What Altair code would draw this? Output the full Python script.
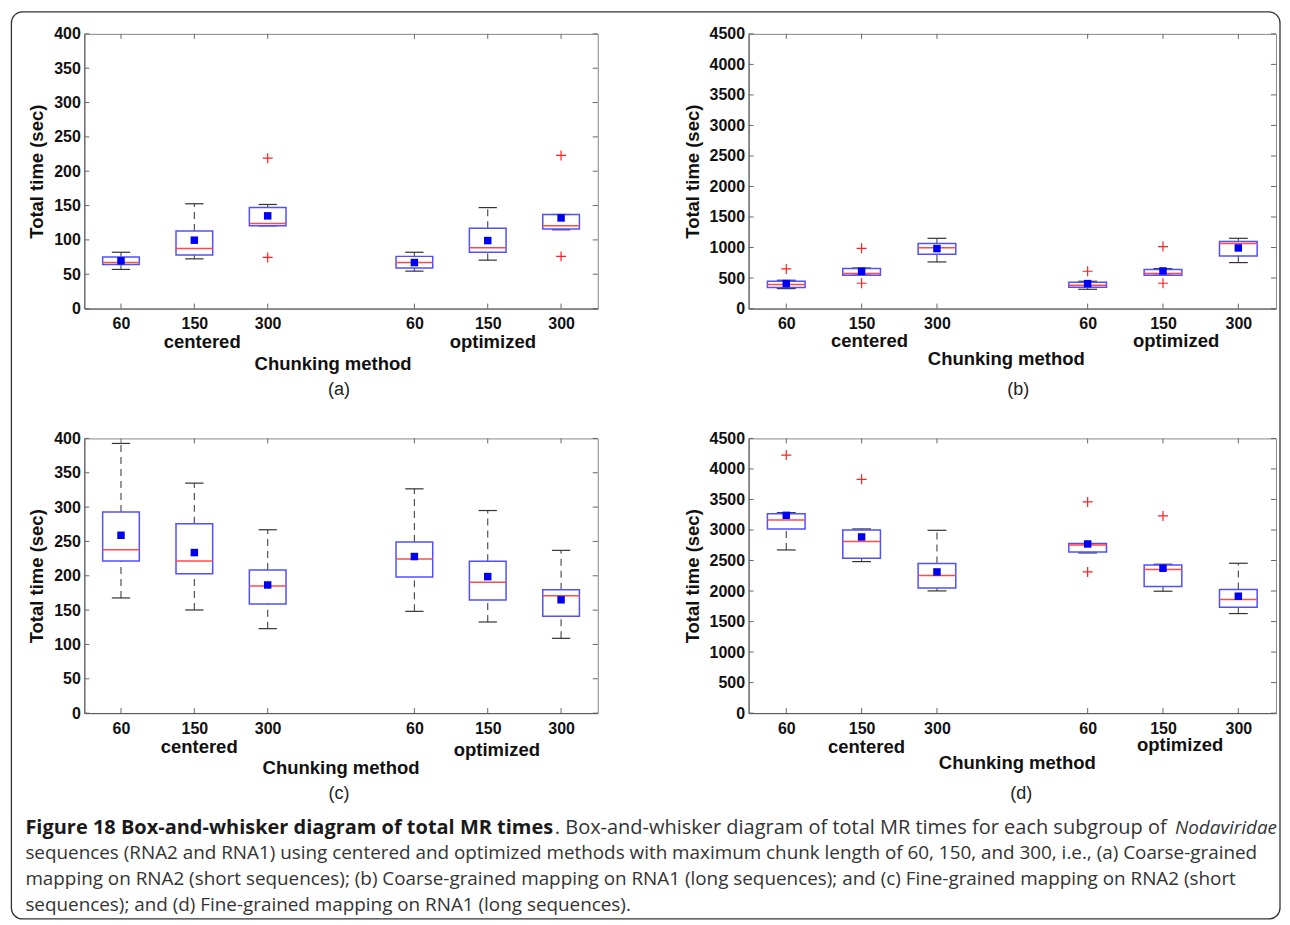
import altair as alt
import pandas as pd

# ---------------- data ----------------
chunk_labels = ["60", "150", "300"]
method_labels = ["centered", "optimized"]
positions = [1, 2, 3, 5, 6, 7]

# panel (a): coarse-grained, RNA2
a_q1 = [64, 78, 120.5, 59, 82, 116]
a_q3 = [75, 113, 147, 76, 117, 137]
a_med = [67, 87.5, 124, 67, 88.5, 120.5]
a_mean = [69.5, 99.6, 135, 67, 99, 132]
a_lo = [57, 72.4, 120.5, 54.5, 70.5, 114.7]
a_hi = [82, 152.6, 151.6, 82, 147, 137]
a_out_pos = [3, 3, 7, 7]
a_out_val = [219, 74.4, 223, 76]

# panel (b): coarse-grained, RNA1
b_q1 = [344, 546, 889, 349, 546, 862]
b_q3 = [447, 655, 1064, 431, 638, 1097]
b_med = [393, 573, 998, 382, 573, 1064]
b_mean = [409, 611, 982, 409, 616, 993]
b_lo = [327, 546, 764, 316, 546, 753]
b_hi = [464, 665, 1151, 447, 655, 1151]
b_out_pos = [1, 2, 2, 5, 6, 6]
b_out_val = [649, 987, 415, 611, 1015, 415]

# panel (c): fine-grained, RNA2
c_q1 = [221.6, 203, 159, 198.3, 164.8, 141]
c_q3 = [293, 275.6, 208.5, 249.3, 221, 179.8]
c_med = [238, 221.6, 185, 224.5, 190.5, 171]
c_mean = [259, 233.8, 186.6, 228, 198.8, 165]
c_lo = [167.7, 150.2, 123, 148.2, 132.7, 108.9]
c_hi = [392.7, 334.9, 267, 326.6, 295, 237]
c_out_pos = []
c_out_val = []

# panel (d): fine-grained, RNA1
d_q1 = [3017, 2537, 2051, 2640, 2073, 1735]
d_q3 = [3268, 3000, 2450, 2777, 2428, 2024]
d_med = [3164, 2810, 2253, 2755, 2351, 1860]
d_mean = [3240, 2886, 2313, 2771, 2373, 1915]
d_lo = [2673, 2482, 2002, 2624, 1997, 1631]
d_hi = [3284, 3017, 2995, 2777, 2439, 2455]
d_out_pos = [1, 2, 5, 5, 6]
d_out_val = [4228, 3830, 3459, 2313, 3230]

y_title = "Total time (sec)"
x_title = "Chunking method"

caption_bold = "Figure 18 Box-and-whisker diagram of total MR times"
caption_l1 = ". Box-and-whisker diagram of total MR times for each subgroup of "
caption_it = "Nodaviridae"
caption_lines = [
    "sequences (RNA2 and RNA1) using centered and optimized methods with maximum chunk length of 60, 150, and 300, i.e., (a) Coarse-grained",
    "mapping on RNA2 (short sequences); (b) Coarse-grained mapping on RNA1 (long sequences); and (c) Fine-grained mapping on RNA2 (short",
    "sequences); and (d) Fine-grained mapping on RNA1 (long sequences).",
]

# ---------------- styling ----------------
AX_FONT = "Liberation Sans"
CAP_FONT = "Open Sans"
BOX_BLUE = "#5050ff"
MED_RED = "#ff4a4a"
MEAN_BLUE = "#0000f0"
OUT_RED = "#ff2020"
WHISK = "#444444"
H = 275
CAP_SIZE = 18.9
CAP_BOLD_SIZE = 20

label_expr = "[{}][(datum.value - 1) % 4]".format(",".join("'%s'" % s for s in chunk_labels))


def txt(s, x, y, size=18.5, weight="bold", font=AX_FONT, align="center", style="normal", color="#111111"):
    return alt.Chart(pd.DataFrame({"t": [s]})).mark_text(
        text=s, font=font, fontSize=size, fontWeight=weight, fontStyle=style,
        align=align, baseline="middle", color=color
    ).encode(x=alt.value(x), y=alt.value(y))


def panel(q1, q3, med, mean, lo, hi, out_pos, out_val, ymax, ystep, W, labels, extra=None):
    df = pd.DataFrame({"pos": positions, "q1": q1, "q3": q3, "med": med,
                       "mean": mean, "lo": lo, "hi": hi})
    yvals = list(range(0, ymax + 1, ystep))
    xs = alt.Scale(domain=[0.5, 7.5], nice=False, zero=False)
    ys = alt.Scale(domain=[0, ymax], nice=False, zero=True)
    xax = alt.Axis(values=positions, labelExpr=label_expr, ticks=False, grid=False,
                   title=None, labelFont=AX_FONT, labelFontSize=16, labelFontWeight="bold",
                   labelColor="#111111", labelPadding=7, labelAngle=0,
                   domainColor="#555555", labelFlush=False)
    yax = alt.Axis(values=yvals, ticks=False, grid=False, title=y_title, format="d",
                   labelFont=AX_FONT, labelFontSize=16, labelFontWeight="bold",
                   labelColor="#111111", labelPadding=4, domainColor="#555555",
                   titleFont=AX_FONT, titleFontSize=18.5, titleFontWeight="bold",
                   titleColor="#111111", titlePadding=7, labelFlush=False)

    def X(f):
        return alt.X(f"{f}:Q", scale=xs, axis=xax)

    def Y(f):
        return alt.Y(f"{f}:Q", scale=ys, axis=yax)

    base = alt.Chart(df).transform_calculate(
        bl="datum.pos - 0.25", br="datum.pos + 0.25",
        cl="datum.pos - 0.125", cr="datum.pos + 0.125")

    w_up = base.mark_rule(strokeDash=[7, 5], color=WHISK, strokeWidth=1.1).encode(
        x=X("pos"), y=Y("q3"), y2="hi")
    w_dn = base.mark_rule(strokeDash=[7, 5], color=WHISK, strokeWidth=1.1).encode(
        x=X("pos"), y=Y("lo"), y2="q1")
    cap_up = base.mark_rule(color="#333333", strokeWidth=1.2).encode(
        x=X("cl"), x2="cr", y=Y("hi"))
    cap_dn = base.mark_rule(color="#333333", strokeWidth=1.2).encode(
        x=X("cl"), x2="cr", y=Y("lo"))
    box = base.mark_rect(fill="white", fillOpacity=0, stroke=BOX_BLUE, strokeWidth=1.5).encode(
        x=X("bl"), x2="br", y=Y("q1"), y2="q3")
    median = base.mark_rule(color=MED_RED, strokeWidth=1.5).encode(
        x=X("bl"), x2="br", y=Y("med"))
    meanm = base.mark_square(size=56, color=MEAN_BLUE, opacity=1, filled=True).encode(
        x=X("pos"), y=Y("mean"))

    layers = [w_up, w_dn, cap_up, cap_dn, box, median, meanm]

    if out_pos:
        odf = pd.DataFrame({"pos": out_pos, "val": out_val})
        outs = alt.Chart(odf).mark_point(
            shape="M-1,0L1,0M0,-1L0,1", size=100, filled=False,
            color=OUT_RED, strokeWidth=1.2, opacity=1).encode(x=X("pos"), y=Y("val"))
        layers.append(outs)

    # inward ticks on all four sides (MATLAB style box)
    yt = pd.DataFrame({"v": yvals})
    xt = pd.DataFrame({"p": positions})
    tcol = "#666666"
    layers.append(alt.Chart(yt).mark_rule(color=tcol).encode(
        y=Y("v"), x=alt.value(0), x2=alt.value(5)))
    layers.append(alt.Chart(yt).mark_rule(color=tcol).encode(
        y=Y("v"), x=alt.value(W - 5), x2=alt.value(W)))
    layers.append(alt.Chart(xt).mark_rule(color=tcol).encode(
        x=X("p"), y=alt.value(H), y2=alt.value(H - 5)))
    layers.append(alt.Chart(xt).mark_rule(color=tcol).encode(
        x=X("p"), y=alt.value(0), y2=alt.value(5)))

    # group / axis titles
    (cx, cy), (ox, oy), (tx, ty), (lx, ly, letter) = labels
    layers.append(txt(method_labels[0], cx, cy))
    layers.append(txt(method_labels[1], ox, oy))
    layers.append(txt(x_title, tx, ty))
    layers.append(txt(letter, lx, ly, size=18, weight="normal", color="#222222"))

    if extra:
        layers.extend(extra)

    return alt.layer(*layers).properties(width=W, height=H)


# frame and caption, drawn relative to panel (a)'s plot origin (83, 32)
frame = alt.Chart(pd.DataFrame({"f": [0]})).mark_rect(
    fill="white", fillOpacity=0, stroke="#333333", strokeWidth=1.3, cornerRadius=11
).encode(x=alt.value(-73), x2=alt.value(1197), y=alt.value(-22), y2=alt.value(886))

cap_layers = [
    frame,
    txt(caption_bold, -59, 795, size=CAP_BOLD_SIZE, weight="bold", font=CAP_FONT, align="left",
        color="#1a1a1a"),
    txt(caption_l1, 471, 795, size=20.0, weight="normal", font=CAP_FONT, align="left",
        color="#333333"),
    txt(caption_it, 1194, 795, size=CAP_SIZE, weight="normal", font=CAP_FONT, align="right",
        style="italic", color="#333333"),
]
for i, line in enumerate(caption_lines):
    cap_layers.append(txt(line, -59, 820 + 26.2 * i, size=CAP_SIZE, weight="normal",
                          font=CAP_FONT, align="left", color="#333333"))

pa = panel(a_q1, a_q3, a_med, a_mean, a_lo, a_hi, a_out_pos, a_out_val, 400, 50, 514,
           [(118, 308), (409, 308), (249, 331), (255, 357, "(a)")], extra=cap_layers)
pb = panel(b_q1, b_q3, b_med, b_mean, b_lo, b_hi, b_out_pos, b_out_val, 4500, 500, 528,
           [(121, 307), (428, 307), (258, 325), (270, 357, "(b)")])
pc = panel(c_q1, c_q3, c_med, c_mean, c_lo, c_hi, c_out_pos, c_out_val, 400, 50, 514,
           [(115, 309), (413, 312), (257, 330), (255, 356, "(c)")])
pd_ = panel(d_q1, d_q3, d_med, d_mean, d_lo, d_hi, d_out_pos, d_out_val, 4500, 500, 528,
            [(118, 309), (432, 307), (269, 325), (273, 356, "(d)")])

chart = alt.concat(
    pa, pb, pc, pd_, columns=2,
    spacing=alt.RowColnumber(row=130, column=151), bounds="flush",
).properties(
    padding={"left": 1.4, "top": 1.4, "right": 0, "bottom": 0},
    background="white",
).configure_view(stroke="#888888", strokeWidth=1)

chart.save("out.html", embed_options={"renderer": "svg", "actions": False})
